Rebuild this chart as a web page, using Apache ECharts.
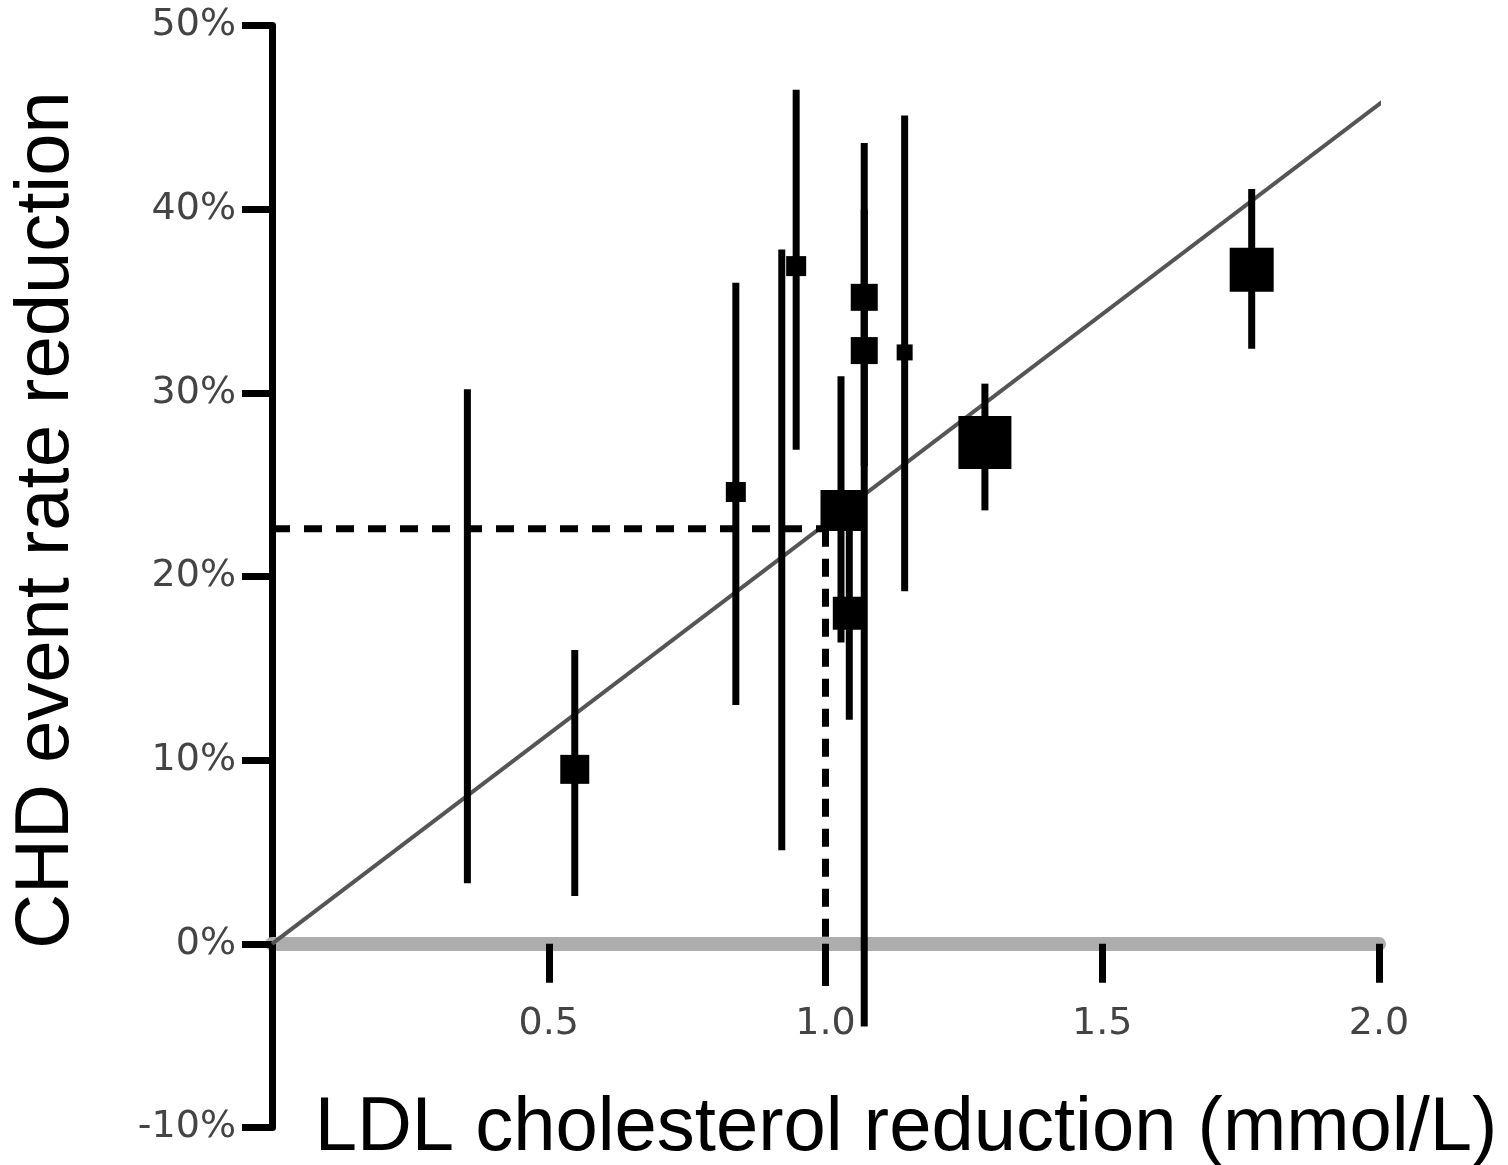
<!DOCTYPE html>
<html>
<head>
<meta charset="utf-8">
<script src="https://cdn.jsdelivr.net/npm/echarts@6/dist/echarts.min.js"></script>
<style>
  html, body { margin: 0; padding: 0; background: #fff; }
  #chart { width: 1508px; height: 1165px; }
</style>
</head>
<body>
<div id="chart"></div>
<script>
// trials: LDL reduction (mmol/L) against CHD event rate reduction (%)
var ldlReduction = [0.353, 0.547, 0.838, 0.921, 0.947, 1.028, 1.043, 1.070, 1.070, 1.143, 1.288, 1.770];
var chdReduction = [16.7, 9.5, 24.6, 21.5, 36.9, 23.6, 18.0, 35.2, 32.3, 32.2, 27.3, 36.7];
var ciLower      = [3.3, 2.6, 13.0, 5.1, 26.9, 16.4, 12.2, 26.0, -4.5, 19.2, 23.6, 32.4];
var ciUpper      = [30.2, 16.0, 36.0, 37.8, 46.5, 30.9, 24.0, 43.6, 40.0, 45.1, 30.5, 41.1];

// regression line through the origin, and the read-off at 1 mmol/L
var fitLine = [[0, 0], [2.015, 46.05]];
var readOffX = 1.0;
var readOffY = 22.6;
var readOffBottom = -2.3;

var xRange = [0, 2.0];
var yRange = [-10, 50];

// box size of each trial marker (px), 0 = no box drawn
var boxSize = [0, 29, 20, 0, 20, 41, 33, 27, 27, 16, 53, 44];

var labelFont = 'DejaVu Sans';
var titleFont = 'Liberation Sans';

var gridTop = 25.5, gridBottom = 37.5, chartH = 1165;
// the x axis sits on y = 0, so shift it up from the grid bottom
var plotH = chartH - gridTop - gridBottom;
var zeroShift = plotH * (0 - yRange[0]) / (yRange[1] - yRange[0]);

var chdChart = echarts.init(document.getElementById('chart'));

var option = {
  animation: false,
  backgroundColor: '#fff',
  grid: {
    left: 272,
    right: 129,
    top: gridTop,
    bottom: gridBottom,
    outerBoundsMode: 'none'
  },

  // Horizontal axis
  xAxis: {
    type: 'value',
    min: xRange[0],
    max: xRange[1],
    interval: 0.5,
    offset: -zeroShift,
    splitLine: { show: false },
    axisLine: { onZero: false, lineStyle: { color: '#adadad', width: 14 } },
    axisTick: { length: 39, lineStyle: { color: '#000', width: 7 } },
    axisLabel: {
      margin: 61,
      fontSize: 38,
      fontFamily: labelFont,
      color: '#444',
      hideOverlap: false,
      formatter: function (v) { return v === 0 ? '' : v.toFixed(1); }
    }
  },

  // Vertical axis
  yAxis: {
    type: 'value',
    min: yRange[0],
    max: yRange[1],
    interval: 10,
    splitLine: { show: false },
    axisLine: { onZero: false, lineStyle: { color: '#000', width: 7 } },
    axisTick: { length: 30, lineStyle: { color: '#000', width: 7 } },
    axisLabel: {
      margin: 36,
      fontSize: 38,
      fontFamily: labelFont,
      color: '#444',
      formatter: '{value}%'
    }
  },

  graphic: [
    {
      type: 'text',
      x: 47, y: 520,
      rotation: Math.PI / 2,
      style: {
        text: 'CHD event rate reduction',
        fontSize: 76, fontFamily: titleFont, fill: '#000',
        align: 'center', verticalAlign: 'middle'
      }
    },
    {
      type: 'text',
      x: 906, y: 1129,
      style: {
        text: 'LDL cholesterol reduction (mmol/L)',
        fontSize: 76, fontFamily: titleFont, fill: '#000',
        align: 'center', verticalAlign: 'middle'
      }
    }
  ],

  series: [
    {
      name: 'fit',
      type: 'line',
      data: fitLine,
      symbol: 'none',
      clip: false,
      z: 1,
      lineStyle: { color: '#555', width: 4 }
    },
    {
      name: 'readoff-h',
      type: 'line',
      data: [[xRange[0], readOffY], [readOffX, readOffY]],
      symbol: 'none',
      z: 2,
      lineStyle: { color: '#000', width: 7, type: [18, 14] }
    },
    {
      name: 'readoff-v',
      type: 'line',
      data: [[readOffX, readOffY], [readOffX, readOffBottom]],
      symbol: 'none',
      z: 2,
      lineStyle: { color: '#000', width: 7, type: [18, 12] }
    },
    {
      name: 'ci',
      type: 'custom',
      z: 3,
      data: ldlReduction.map(function (x, i) { return [x, ciLower[i], ciUpper[i]]; }),
      renderItem: function (params, api) {
        var hi = api.coord([api.value(0), api.value(2)]);
        var lo = api.coord([api.value(0), api.value(1)]);
        return {
          type: 'rect',
          shape: { x: hi[0] - 3.5, y: hi[1], width: 7, height: lo[1] - hi[1] },
          style: { fill: '#000' }
        };
      }
    },
    {
      name: 'trials',
      type: 'scatter',
      z: 4,
      symbol: 'rect',
      data: ldlReduction.map(function (x, i) { return [x, chdReduction[i]]; }),
      symbolSize: function (val, params) { return boxSize[params.dataIndex]; },
      itemStyle: { color: '#000', opacity: 1 }
    }
  ]
};

chdChart.setOption(option);
</script>
</body>
</html>
